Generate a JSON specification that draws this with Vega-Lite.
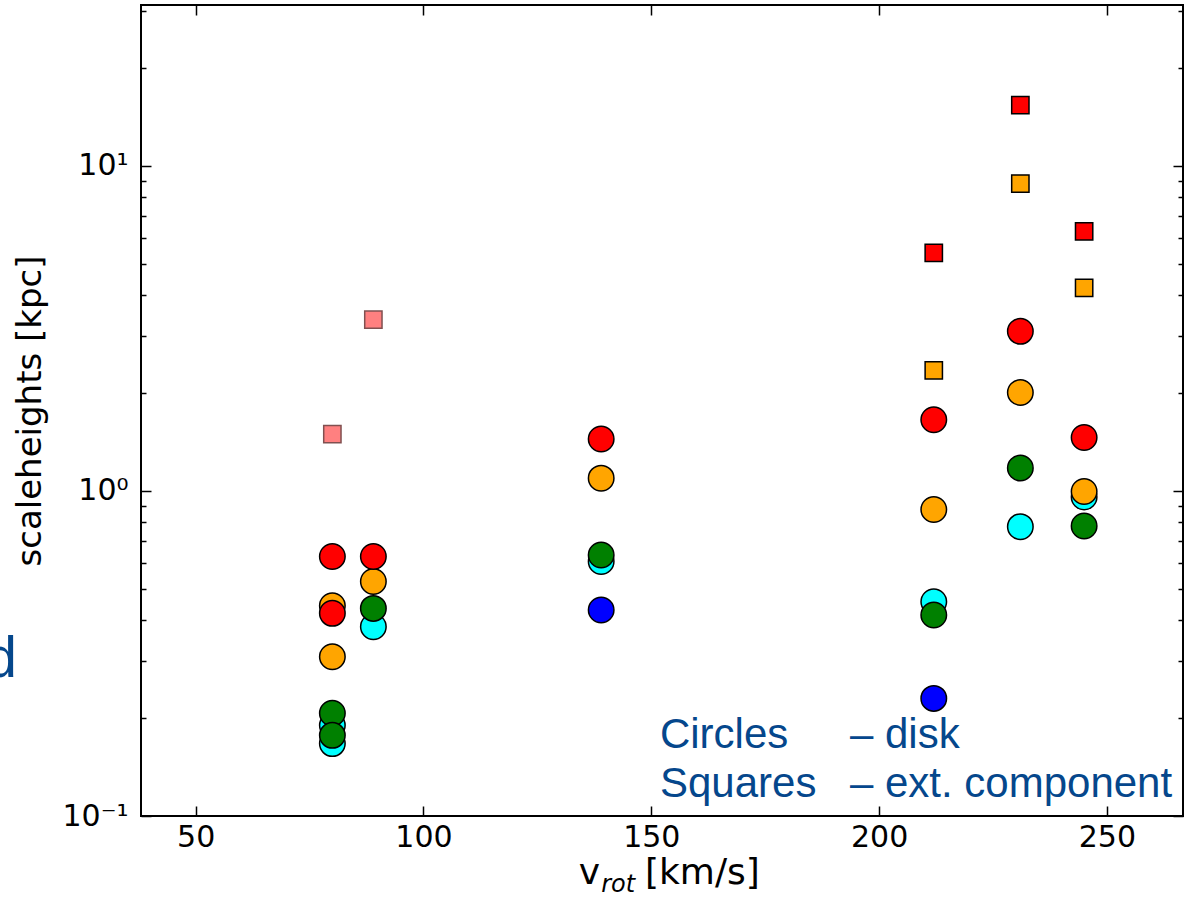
{
  "$schema": "https://vega.github.io/schema/vega-lite/v6.json",
  "width": 1042,
  "height": 811,
  "autosize": {"type": "none"},
  "padding": {"left": 141, "top": 5, "right": 13, "bottom": 83},
  "background": "white",
  "config": {
    "view": {"stroke": "black", "strokeWidth": 2},
    "font": "DejaVu Sans",
    "axis": {
      "domain": false,
      "grid": false,
      "labelFont": "DejaVu Sans",
      "labelFontSize": 30,
      "labelColor": "black",
      "titleFont": "DejaVu Sans",
      "titleFontSize": 34,
      "titleFontWeight": "normal",
      "titleColor": "black",
      "tickColor": "black",
      "tickWidth": 1.5,
      "labelOverlap": false,
      "labelFlush": false
    }
  },
  "datasets": {
    "points": [
      {"vrot": 80, "h": 0.19, "series": "cyan", "component": "disk"},
      {"vrot": 80, "h": 0.167, "series": "cyan", "component": "disk"},
      {"vrot": 89, "h": 0.382, "series": "cyan", "component": "disk"},
      {"vrot": 139, "h": 0.606, "series": "cyan", "component": "disk"},
      {"vrot": 212, "h": 0.456, "series": "cyan", "component": "disk"},
      {"vrot": 231, "h": 0.776, "series": "cyan", "component": "disk"},
      {"vrot": 245, "h": 0.958, "series": "cyan", "component": "disk"},
      {"vrot": 80, "h": 0.443, "series": "orange", "component": "disk"},
      {"vrot": 80, "h": 0.309, "series": "orange", "component": "disk"},
      {"vrot": 89, "h": 0.526, "series": "orange", "component": "disk"},
      {"vrot": 139, "h": 1.094, "series": "orange", "component": "disk"},
      {"vrot": 212, "h": 0.876, "series": "orange", "component": "disk"},
      {"vrot": 231, "h": 2.007, "series": "orange", "component": "disk"},
      {"vrot": 245, "h": 0.995, "series": "orange", "component": "disk"},
      {"vrot": 80, "h": 0.207, "series": "green", "component": "disk"},
      {"vrot": 80, "h": 0.177, "series": "green", "component": "disk"},
      {"vrot": 89, "h": 0.435, "series": "green", "component": "disk"},
      {"vrot": 139, "h": 0.635, "series": "green", "component": "disk"},
      {"vrot": 212, "h": 0.415, "series": "green", "component": "disk"},
      {"vrot": 231, "h": 1.175, "series": "green", "component": "disk"},
      {"vrot": 245, "h": 0.78, "series": "green", "component": "disk"},
      {"vrot": 80, "h": 0.628, "series": "red", "component": "disk"},
      {"vrot": 80, "h": 0.42, "series": "red", "component": "disk"},
      {"vrot": 89, "h": 0.628, "series": "red", "component": "disk"},
      {"vrot": 139, "h": 1.443, "series": "red", "component": "disk"},
      {"vrot": 212, "h": 1.654, "series": "red", "component": "disk"},
      {"vrot": 231, "h": 3.094, "series": "red", "component": "disk"},
      {"vrot": 245, "h": 1.459, "series": "red", "component": "disk"},
      {"vrot": 139, "h": 0.43, "series": "blue", "component": "disk"},
      {"vrot": 212, "h": 0.23, "series": "blue", "component": "disk"},
      {"vrot": 80, "h": 1.495, "series": "faint red", "component": "ext"},
      {"vrot": 89, "h": 3.36, "series": "faint red", "component": "ext"},
      {"vrot": 212, "h": 5.39, "series": "red", "component": "ext"},
      {"vrot": 231, "h": 15.36, "series": "red", "component": "ext"},
      {"vrot": 245, "h": 6.28, "series": "red", "component": "ext"},
      {"vrot": 212, "h": 2.346, "series": "orange", "component": "ext"},
      {"vrot": 231, "h": 8.81, "series": "orange", "component": "ext"},
      {"vrot": 245, "h": 4.21, "series": "orange", "component": "ext"}
    ],
    "notes": [
      {"label": "Circles", "vrot": 151.9, "h": 0.1619},
      {"label": "– disk", "vrot": 193.6, "h": 0.1619},
      {"label": "Squares", "vrot": 151.9, "h": 0.1144},
      {"label": "– ext. component", "vrot": 193.6, "h": 0.1144}
    ],
    "fragment": [
      {"label": "d", "vrot": 10.8, "h": 0.2676}
    ],
    "xtitle_main": [
      {"label": "v", "vrot": 134.1, "h": 0.06177},
      {"label": "[km/s]", "vrot": 148.6, "h": 0.06177}
    ],
    "xtitle_sub": [
      {"label": "rot", "vrot": 139.0, "h": 0.05839}
    ]
  },
  "layer": [
    {
      "data": {"name": "points"},
      "mark": {"type": "point", "filled": true, "strokeWidth": 1.5, "opacity": 1},
      "encoding": {
        "x": {
          "field": "vrot", "type": "quantitative",
          "scale": {"type": "linear", "domain": [38, 266.7], "nice": false, "zero": false},
          "axis": {
            "orient": "bottom",
            "title": null,
            "values": [50, 100, 150, 200, 250],
            "tickSize": -10,
            "labelPadding": 16
          }
        },
        "y": {
          "field": "h", "type": "quantitative",
          "scale": {"type": "log", "domain": [0.1, 31.2], "nice": false},
          "axis": {
            "orient": "left",
            "title": "scaleheights [kpc]",
            "values": [0.1, 0.2, 0.3, 0.4, 0.5, 0.6, 0.7, 0.8, 0.9, 1, 2, 3, 4, 5, 6, 7, 8, 9, 10, 20, 30],
            "labelExpr": "datum.value == 0.1 ? '10⁻¹' : datum.value == 1 ? '10⁰' : datum.value == 10 ? '10¹' : ''",
            "tickSize": {"condition": {"test": "datum.value == 0.1 || datum.value == 1 || datum.value == 10", "value": -10}, "value": -5},
            "labelPadding": 23,
            "titlePadding": 14
          }
        },
        "color": {
          "field": "series", "type": "nominal", "legend": null,
          "scale": {"domain": ["cyan", "orange", "green", "red", "blue", "faint red"],
                    "range": ["#00ffff", "#ffa500", "#008000", "#ff0000", "#0000ff", "#ff8080"]}
        },
        "stroke": {
          "condition": {"test": "datum.series == 'faint red'", "value": "#805050"},
          "value": "black"
        },
        "shape": {
          "field": "component", "type": "nominal", "legend": null,
          "scale": {"domain": ["disk", "ext"], "range": ["circle", "square"]}
        },
        "size": {
          "field": "component", "type": "nominal", "legend": null,
          "scale": {"domain": ["disk", "ext"], "range": [650, 300]}
        }
      }
    },
    {
      "data": {"name": "notes"},
      "mark": {"type": "text", "align": "left", "baseline": "alphabetic", "font": "Liberation Sans", "fontSize": 42, "color": "#05478c"},
      "encoding": {
        "x": {
          "field": "vrot", "type": "quantitative",
          "scale": {"type": "linear", "domain": [38, 266.7], "nice": false, "zero": false},
          "axis": {"orient": "top", "title": null, "labels": false, "values": [50, 100, 150, 200, 250], "tickSize": -10}
        },
        "y": {
          "field": "h", "type": "quantitative",
          "scale": {"type": "log", "domain": [0.1, 31.2], "nice": false},
          "axis": {
            "orient": "right", "title": null, "labels": false,
            "values": [0.1, 0.2, 0.3, 0.4, 0.5, 0.6, 0.7, 0.8, 0.9, 1, 2, 3, 4, 5, 6, 7, 8, 9, 10, 20, 30],
            "tickSize": {"condition": {"test": "datum.value == 0.1 || datum.value == 1 || datum.value == 10", "value": -10}, "value": -5}
          }
        },
        "text": {"field": "label", "type": "nominal"}
      }
    },
    {
      "data": {"name": "fragment"},
      "mark": {"type": "text", "align": "right", "baseline": "alphabetic", "font": "Liberation Sans", "fontSize": 57, "color": "#05478c"},
      "encoding": {
        "x": {"field": "vrot", "type": "quantitative", "axis": null},
        "y": {"field": "h", "type": "quantitative", "axis": null},
        "text": {"field": "label", "type": "nominal"}
      }
    },
    {
      "data": {"name": "xtitle_main"},
      "mark": {"type": "text", "align": "left", "baseline": "alphabetic", "font": "DejaVu Sans", "fontSize": 36, "color": "black"},
      "encoding": {
        "x": {"field": "vrot", "type": "quantitative", "axis": null},
        "y": {"field": "h", "type": "quantitative", "axis": null},
        "text": {"field": "label", "type": "nominal"}
      }
    },
    {
      "data": {"name": "xtitle_sub"},
      "mark": {"type": "text", "align": "left", "baseline": "alphabetic", "font": "DejaVu Sans", "fontStyle": "italic", "fontSize": 24, "color": "black"},
      "encoding": {
        "x": {"field": "vrot", "type": "quantitative", "axis": null},
        "y": {"field": "h", "type": "quantitative", "axis": null},
        "text": {"field": "label", "type": "nominal"}
      }
    }
  ],
  "resolve": {"axis": {"x": "independent", "y": "independent"}}
}
